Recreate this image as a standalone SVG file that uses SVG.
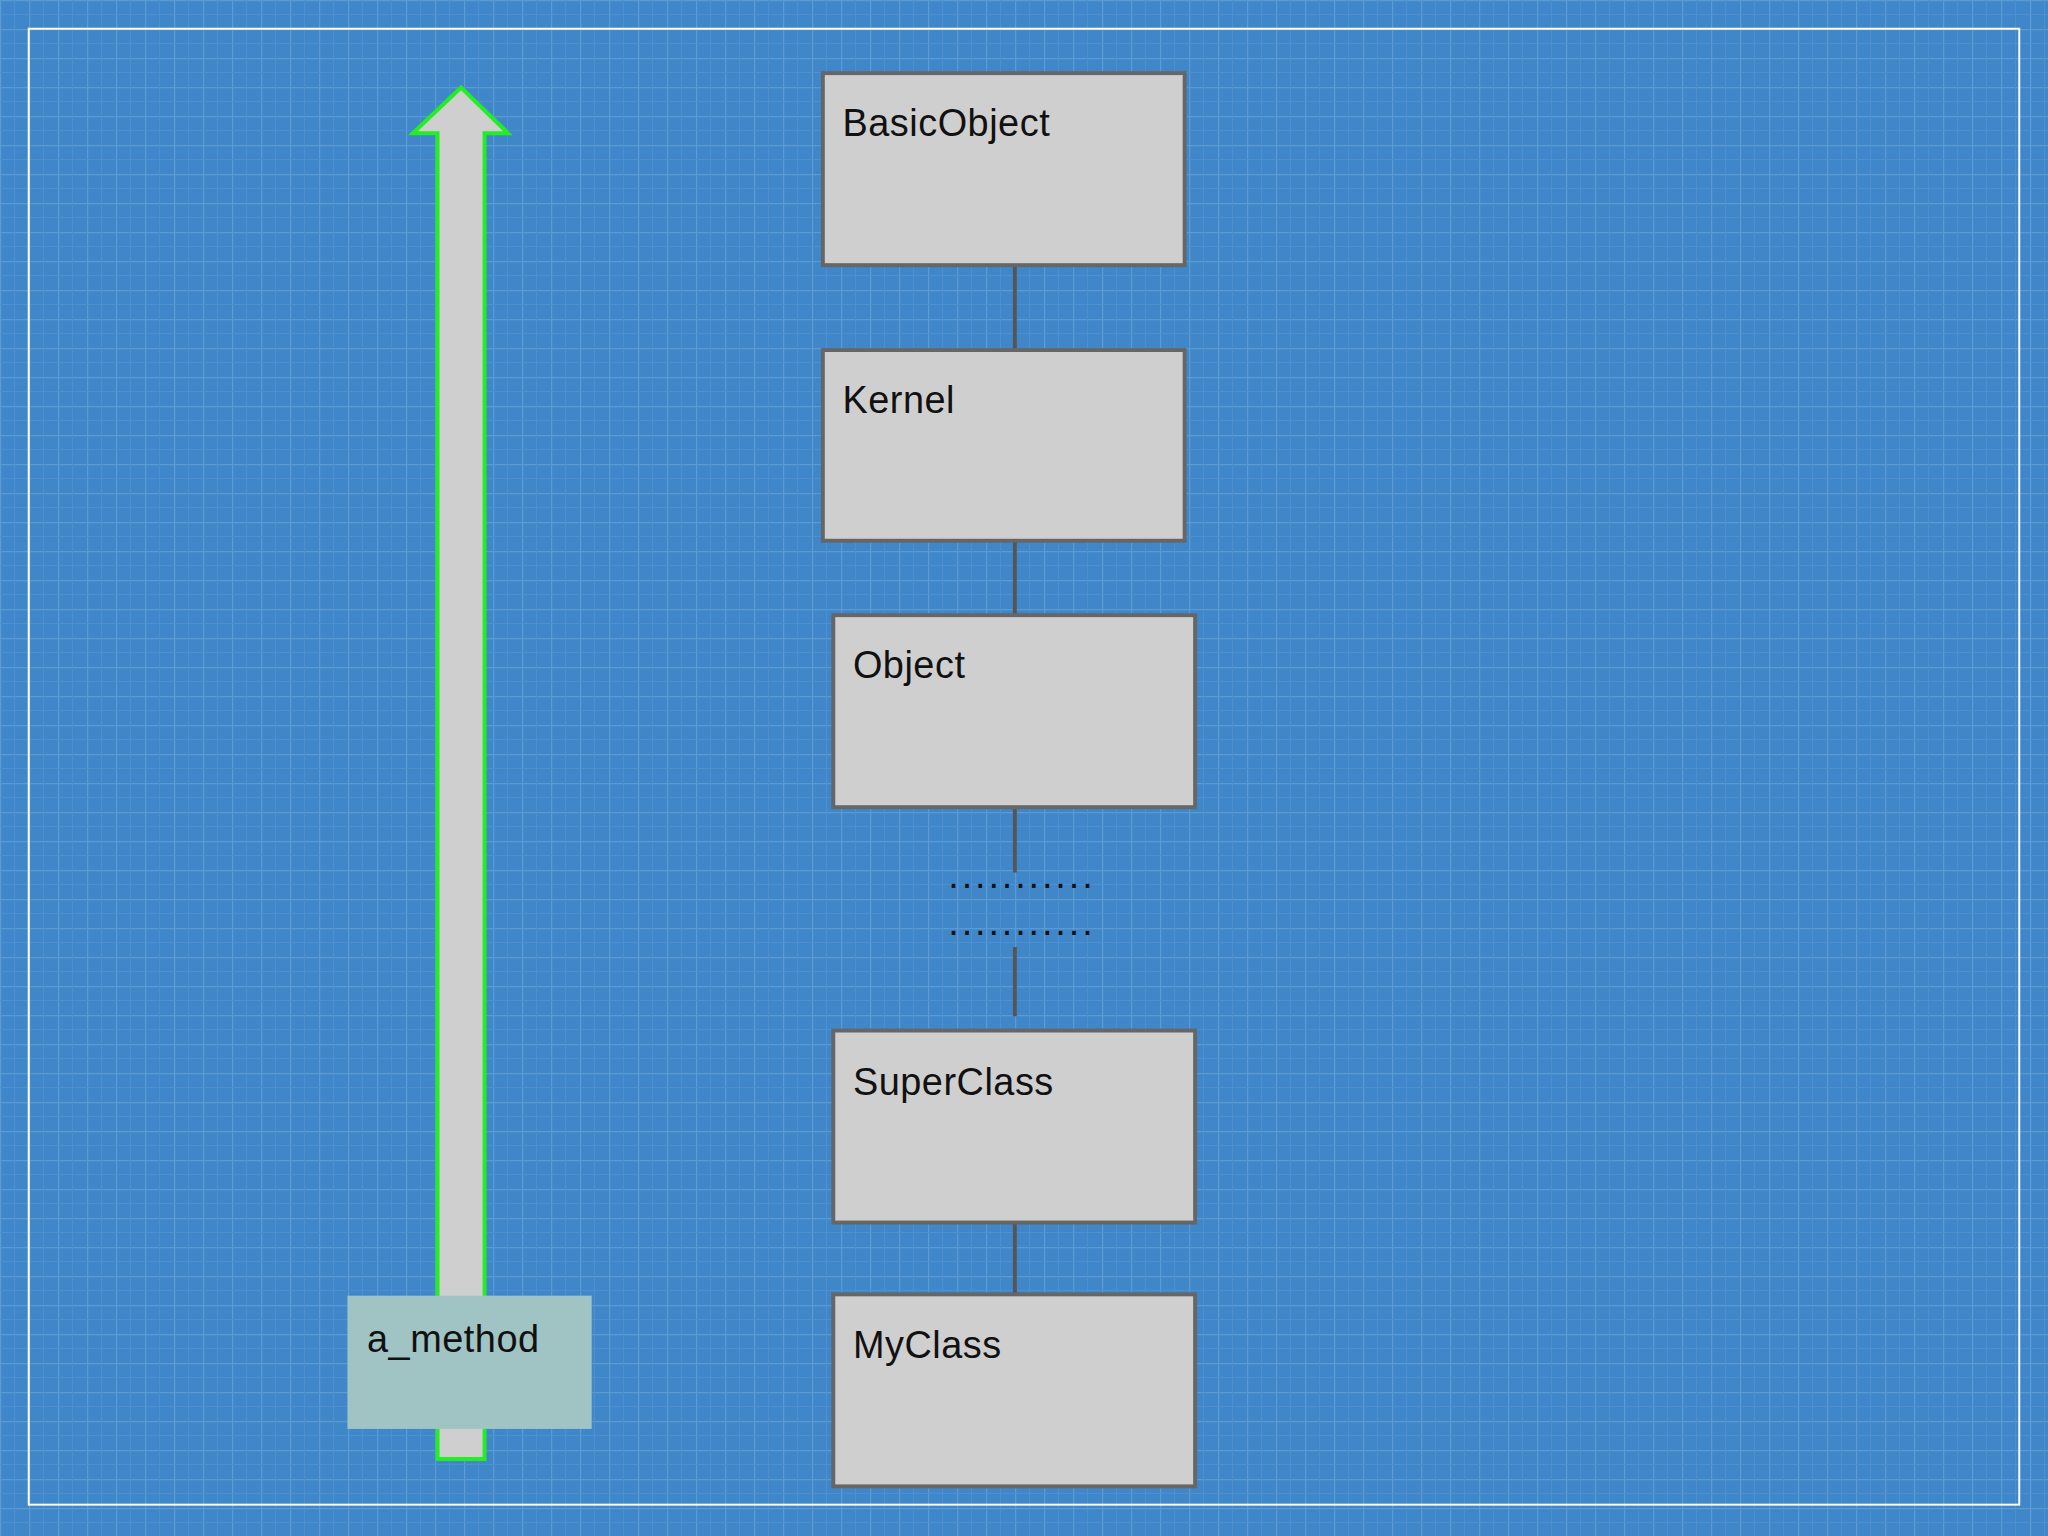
<svg xmlns="http://www.w3.org/2000/svg" width="2048" height="1536" viewBox="0 0 2048 1536">
<defs>
<pattern id="g" width="29" height="29" patternUnits="userSpaceOnUse">
<rect width="29" height="29" fill="#3f87c9"/>
<path d="M0 0.5H29M0.5 0V29" stroke="#5b9ad3" stroke-width="1.5"/>
<path d="M0 14.5H29M14.5 0V29" stroke="#4c90cf" stroke-width="1"/>
</pattern>
<style>
.box{fill:#d0cfd0;stroke:#666666;stroke-width:3}
.lbl{font-family:"Liberation Sans",Arial,sans-serif;font-size:29px;fill:#111;letter-spacing:0.4px}
.dots{letter-spacing:2.2px}
.con{stroke:#555;stroke-width:3;fill:none}
</style>
</defs>
<rect width="2048" height="1536" fill="url(#g)"/>
<g transform="scale(1.30612)">
<rect x="22" y="22" width="1524" height="1130" fill="none" stroke="#ffffff" stroke-width="1.5"/>
<g id="arrow"><path d="M335 1117V102H316L353 67L389 102H371V1117Z" fill="#d0cfd0" stroke="#22ee22" stroke-width="3"/></g>
<g id="connectors">
<path class="con" d="M777 203V268M777 414V471M777 618V668M777 725V778M777 936V991"/>
</g>
<g id="basicobject"><rect class="box" x="630" y="56" width="277" height="147"/><text class="lbl" x="645" y="104">BasicObject</text></g>
<g id="kernel"><rect class="box" x="630" y="268" width="277" height="146"/><text class="lbl" x="645" y="316">Kernel</text></g>
<g id="object"><rect class="box" x="638" y="471" width="277" height="147"/><text class="lbl" x="653" y="519">Object</text></g>
<g id="dots"><text class="lbl dots" x="726" y="680">...........</text><text class="lbl dots" x="726" y="716">...........</text></g>
<g id="superclass"><rect class="box" x="638" y="789" width="277" height="147"/><text class="lbl" x="653" y="838">SuperClass</text></g>
<g id="myclass"><rect class="box" x="638" y="991" width="277" height="147"/><text class="lbl" x="653" y="1040">MyClass</text></g>
<g id="a_method"><rect x="266" y="992" width="187" height="102" fill="#a0c4c4"/><text class="lbl" x="281" y="1035">a_method</text></g>
</g>
</svg>
